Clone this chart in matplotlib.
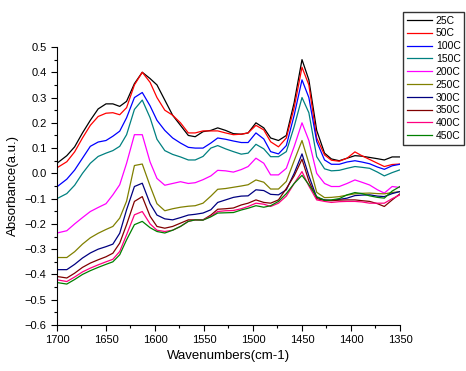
import matplotlib
matplotlib.use("Agg")
import matplotlib.pyplot as plt
from matplotlib.ticker import MultipleLocator

plt.rcParams['font.family'] = ['Liberation Sans', 'DejaVu Sans']

# wavenumber grid (cm-1)
wn = [1700, 1690, 1682, 1674, 1666, 1658, 1650, 1643, 1636, 1629,
      1621, 1613, 1605, 1598, 1590, 1582, 1574, 1566, 1559, 1551,
      1543, 1536, 1528, 1520, 1512, 1505, 1497, 1489, 1482, 1474,
      1466, 1458, 1450, 1443, 1435, 1427, 1420, 1412, 1404, 1396,
      1389, 1381, 1373, 1366, 1358, 1350]

a25 = [0.04, 0.07, 0.105, 0.16, 0.21, 0.255, 0.275, 0.275, 0.265, 0.285,
       0.355, 0.40, 0.375, 0.35, 0.29, 0.23, 0.19, 0.15, 0.145, 0.165,
       0.17, 0.18, 0.17, 0.157, 0.155, 0.16, 0.20, 0.18, 0.14, 0.13,
       0.15, 0.28, 0.45, 0.37, 0.17, 0.08, 0.057, 0.05, 0.06, 0.07,
       0.068, 0.063, 0.058, 0.053, 0.065, 0.065]
a50 = [0.022, 0.046, 0.085, 0.14, 0.19, 0.225, 0.238, 0.24, 0.232, 0.26,
       0.35, 0.40, 0.36, 0.30, 0.25, 0.23, 0.20, 0.16, 0.16, 0.168,
       0.168, 0.168, 0.16, 0.153, 0.155, 0.16, 0.19, 0.172, 0.125, 0.105,
       0.14, 0.26, 0.42, 0.35, 0.14, 0.073, 0.052, 0.048, 0.06, 0.085,
       0.07, 0.055, 0.04, 0.027, 0.035, 0.037]
a100 = [-0.053, -0.023, 0.013, 0.06, 0.107, 0.124, 0.13, 0.147, 0.167, 0.22,
        0.30, 0.32, 0.267, 0.21, 0.17, 0.14, 0.12, 0.103, 0.10, 0.10,
        0.12, 0.14, 0.135, 0.128, 0.122, 0.122, 0.16, 0.136, 0.086, 0.077,
        0.11, 0.23, 0.37, 0.30, 0.126, 0.053, 0.036, 0.036, 0.045, 0.05,
        0.045, 0.038, 0.025, 0.016, 0.03, 0.036]
a150 = [-0.10, -0.08, -0.047, 0.0, 0.04, 0.067, 0.08, 0.09, 0.107, 0.153,
        0.253, 0.29, 0.22, 0.135, 0.09, 0.075, 0.065, 0.053, 0.053, 0.067,
        0.10, 0.11, 0.097, 0.086, 0.076, 0.08, 0.115, 0.097, 0.066, 0.066,
        0.086, 0.185, 0.30, 0.24, 0.066, 0.018, 0.01, 0.012, 0.02, 0.027,
        0.024, 0.02, 0.005, -0.01, 0.003, 0.014]
a200 = [-0.236, -0.227, -0.20, -0.175, -0.151, -0.135, -0.12, -0.085, -0.045, 0.04,
        0.153, 0.153, 0.045, -0.02, -0.047, -0.04, -0.033, -0.04, -0.037, -0.025,
        -0.01, 0.012, 0.01, 0.005, 0.015, 0.027, 0.06, 0.04, -0.006, -0.006,
        0.02, 0.106, 0.20, 0.13, 0.0, -0.04, -0.052, -0.052, -0.04, -0.026,
        -0.035, -0.046, -0.065, -0.078, -0.052, -0.056]
a250 = [-0.333, -0.333, -0.31, -0.28, -0.255, -0.237, -0.222, -0.21, -0.177, -0.11,
        0.031, 0.037, -0.05, -0.12, -0.148, -0.14, -0.134, -0.13, -0.128, -0.118,
        -0.09, -0.063, -0.06, -0.055, -0.05, -0.045, -0.026, -0.035, -0.062, -0.062,
        -0.032, 0.05, 0.13, 0.04, -0.075, -0.096, -0.095, -0.092, -0.086, -0.081,
        -0.079, -0.078, -0.08, -0.081, -0.076, -0.072]
a300 = [-0.381, -0.381, -0.36, -0.335, -0.315, -0.30, -0.29, -0.28, -0.237, -0.144,
        -0.052, -0.039, -0.12, -0.165, -0.18, -0.184, -0.175, -0.165, -0.162, -0.157,
        -0.144, -0.115, -0.105, -0.095, -0.09, -0.089, -0.065, -0.068, -0.083, -0.085,
        -0.065, 0.0, 0.077, -0.01, -0.095, -0.105, -0.107, -0.103, -0.098, -0.088,
        -0.086, -0.085, -0.09, -0.092, -0.08, -0.072]
a350 = [-0.408, -0.414, -0.395, -0.372, -0.355, -0.342, -0.33, -0.316, -0.276, -0.203,
        -0.111, -0.092, -0.17, -0.21, -0.217, -0.21, -0.197, -0.184, -0.184, -0.184,
        -0.165, -0.142, -0.14, -0.137, -0.125, -0.118, -0.105, -0.115, -0.118, -0.105,
        -0.06, -0.01, 0.056, -0.03, -0.10, -0.107, -0.108, -0.106, -0.105, -0.105,
        -0.108, -0.111, -0.12, -0.131, -0.105, -0.081]
a400 = [-0.421, -0.428, -0.41, -0.39, -0.375, -0.362, -0.35, -0.34, -0.309, -0.243,
        -0.164, -0.151, -0.20, -0.225, -0.23, -0.225, -0.21, -0.19, -0.184, -0.184,
        -0.17, -0.151, -0.148, -0.147, -0.14, -0.131, -0.118, -0.122, -0.131, -0.118,
        -0.09, -0.04, 0.007, -0.05, -0.105, -0.111, -0.115, -0.112, -0.111, -0.111,
        -0.113, -0.118, -0.118, -0.118, -0.10, -0.085]
a450 = [-0.432, -0.438, -0.42, -0.40, -0.385, -0.372, -0.36, -0.35, -0.322, -0.263,
        -0.203, -0.19, -0.215, -0.23, -0.236, -0.225, -0.21, -0.19, -0.184, -0.185,
        -0.172, -0.157, -0.156, -0.155, -0.145, -0.138, -0.128, -0.134, -0.128, -0.111,
        -0.08, -0.04, -0.008, -0.045, -0.092, -0.107, -0.105, -0.10, -0.085, -0.076,
        -0.08, -0.089, -0.095, -0.098, -0.07, -0.052]

labels = ['25C', '50C', '100C', '150C', '200C', '250C', '300C', '350C', '400C', '450C']
series = [a25, a50, a100, a150, a200, a250, a300, a350, a400, a450]
colors = ['#000000', '#ff0000', '#0000ff', '#008080', '#ff00ff',
          '#808000', '#000080', '#800000', '#ff0080', '#008000']

fig = plt.figure(figsize=(4.66, 3.71), dpi=100)
ax = fig.add_axes([57/466, 1 - 325/371, 343/466, 278/371])

for y, c, lab in zip(series, colors, labels):
    ax.plot(wn, y, color=c, lw=0.9, label=lab)

ax.set_xlim(1700, 1350)
ax.set_ylim(-0.6, 0.5)
ax.xaxis.set_major_locator(MultipleLocator(50))
ax.xaxis.set_minor_locator(MultipleLocator(25))
ax.yaxis.set_major_locator(MultipleLocator(0.1))
ax.yaxis.set_minor_locator(MultipleLocator(0.05))
ax.spines['top'].set_visible(False)
ax.spines['right'].set_visible(False)
ax.tick_params(which='major', length=4, width=0.8, labelsize=8, direction='out')
ax.tick_params(which='minor', length=2.5, width=0.8, direction='out')
ax.set_xlabel('Wavenumbers(cm-1)', fontsize=9.5, labelpad=3)
ax.set_ylabel('Absorbance(a.u.)', fontsize=9.5, labelpad=4)

leg = fig.legend(loc='upper left', bbox_to_anchor=(403/466, 1 - 12/371),
                 bbox_transform=fig.transFigure, fontsize=7.5, frameon=True,
                 fancybox=False, edgecolor='black', handlelength=2.4,
                 handletextpad=0.4, labelspacing=0.27, borderpad=0.35,
                 borderaxespad=0)
leg.get_frame().set_linewidth(1.0)

fig.savefig('out.png', dpi=100)
